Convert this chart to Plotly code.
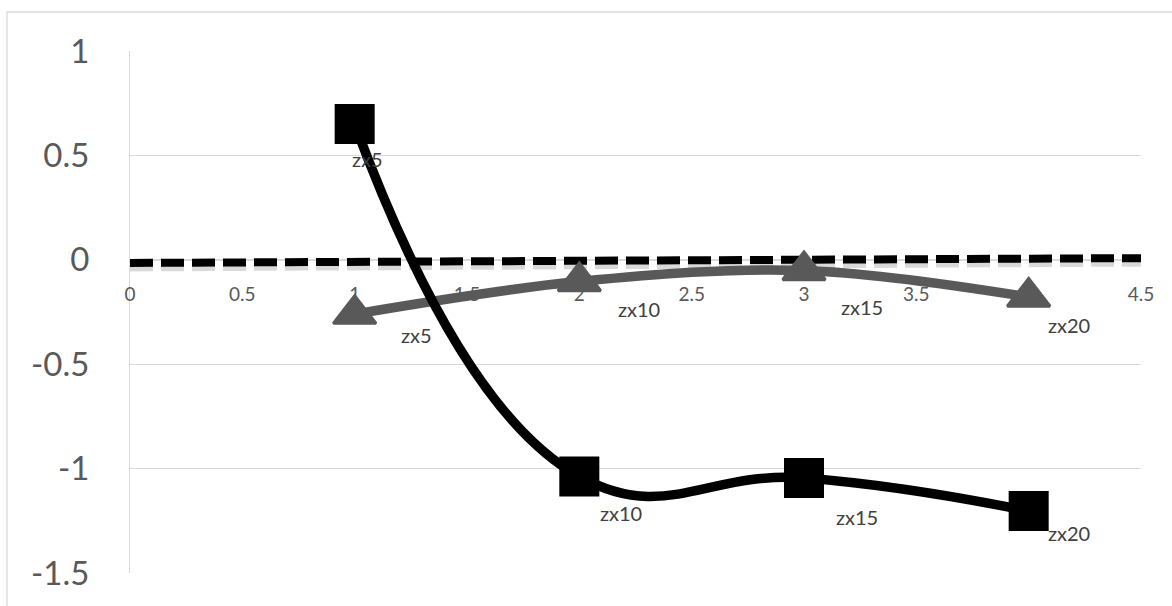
import plotly.graph_objects as go

# data
x_pts = [1, 2, 3, 4]
labels = ["zx5", "zx10", "zx15", "zx20"]
black_vals = [0.65, -1.038, -1.045, -1.203]
gray_vals = [-0.26, -0.104, -0.051, -0.178]
trend_x = [0, 4.5]
trend_y = [-0.015, 0.008]
x_ticks = [0, 0.5, 1, 1.5, 2, 2.5, 3, 3.5, 4, 4.5]
y_ticks = [-1.5, -1, -0.5, 0, 0.5, 1]

# label pixel offsets (dx, dy) per point
black_label_off = [(13, -35), (42, -36), (53, -39), (40, -22)]
gray_label_off = [(62, -21), (60, -27), (58, -37), (40, -28)]

FONT = "Lato"
y_min, y_max = -1.5, 1
plot_h = 522
px_per_unit = plot_h / (y_max - y_min)

fig = go.Figure()

# soft shadow under the dashed trend line
shadow_y = [v - 3 / px_per_unit for v in trend_y]
fig.add_trace(go.Scatter(
    x=trend_x, y=shadow_y, mode="lines",
    line=dict(color="rgba(0,0,0,0.15)", width=11, dash="23px,8px"),
    hoverinfo="skip", showlegend=False))

fig.add_trace(go.Scatter(
    x=trend_x, y=trend_y, mode="lines",
    line=dict(color="black", width=8, dash="23px,8px"),
    hoverinfo="skip", showlegend=False))

fig.add_trace(go.Scatter(
    x=x_pts, y=gray_vals, mode="lines+markers",
    line=dict(color="#595959", width=9.5, shape="spline", smoothing=1),
    marker=dict(symbol="triangle-up", size=37, color="#595959",
                line=dict(color="#595959", width=3)),
    showlegend=False))

fig.add_trace(go.Scatter(
    x=x_pts, y=black_vals, mode="lines+markers",
    line=dict(color="black", width=9.5, shape="spline", smoothing=1.3),
    marker=dict(symbol="square", size=38, color="black",
                line=dict(color="black", width=2)),
    showlegend=False))

annotations = []
for xv, yv, lab, (dx, dy) in zip(x_pts, black_vals, labels, black_label_off):
    annotations.append(dict(x=xv, y=yv, text=lab, showarrow=False,
                            xshift=dx, yshift=dy,
                            font=dict(family=FONT, size=20, color="#404040")))
for xv, yv, lab, (dx, dy) in zip(x_pts, gray_vals, labels, gray_label_off):
    annotations.append(dict(x=xv, y=yv, text=lab, showarrow=False,
                            xshift=dx, yshift=dy,
                            font=dict(family=FONT, size=20, color="#404040")))

fig.update_layout(
    width=1172, height=606,
    margin=dict(l=130, r=31, t=51, b=33),
    paper_bgcolor="white", plot_bgcolor="white",
    annotations=annotations,
    xaxis=dict(range=[0, 4.5], tickvals=x_ticks,
               ticktext=[f"{v:g}" for v in x_ticks],
               showgrid=False, zeroline=False,
               showline=True, linecolor="#d9d9d9", linewidth=1,
               layer="below traces",
               anchor="free", position=(0 - y_min) / (y_max - y_min),
               ticks="outside", ticklen=17, tickcolor="rgba(0,0,0,0)",
               tickfont=dict(family=FONT, size=19, color="#595959")),
    yaxis=dict(range=[y_min, y_max], tickvals=y_ticks,
               ticktext=[f"{v:g}" for v in y_ticks],
               showgrid=True, gridcolor="#d9d9d9", gridwidth=1.3,
               zeroline=False, showline=True, linecolor="#d9d9d9",
               layer="below traces",
               ticks="outside", ticklen=33, tickcolor="rgba(0,0,0,0)",
               tickfont=dict(family=FONT, size=33, color="#595959")),
    shapes=[dict(type="rect", xref="paper", yref="paper",
                 x0=(7 - 130) / 1011, x1=1.2, y0=-0.3, y1=(573 - 12) / 522,
                 line=dict(color="#d9d9d9", width=1.3), layer="below")],
)

fig.write_html("out.html")
